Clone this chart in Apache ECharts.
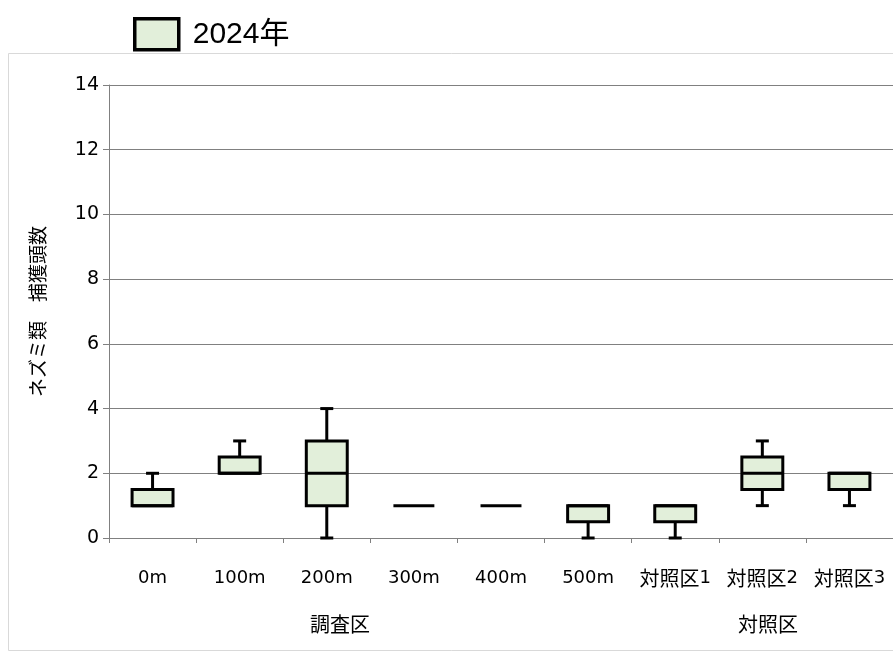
<!DOCTYPE html>
<html><head><meta charset="utf-8">
<script src="https://cdn.jsdelivr.net/npm/echarts@6/dist/echarts.min.js"></script>
<style>html,body{margin:0;padding:0;background:#fff}#c{width:893px;height:654px}</style>
</head><body><div id="c"></div>
<script>
const categories = ['0m','100m','200m','300m','400m','500m','対照区1','対照区2','対照区3'];
const minVals    = [1, 2, 0, 1, 1, 0,   0,   1,   1];
const q1Vals     = [1, 2, 1, 1, 1, 0.5, 0.5, 1.5, 1.5];
const medianVals = [1, 2, 2, 1, 1, 1,   1,   2,   2];
const q3Vals     = [1.5, 2.5, 3, 1, 1, 1, 1, 2.5, 2];
const maxVals    = [2, 3, 4, 1, 1, 1, 1, 3, 2];
const groupLabels = ['調査区', '対照区'];
const seriesName = '2024年';
const yTicks = {min: 0, max: 14, interval: 2};

const data = categories.map((c, i) => [i, minVals[i], q1Vals[i], medianVals[i], q3Vals[i], maxVals[i]]);
const FONT = 'DejaVu Sans, Verdana, Noto Sans CJK JP, sans-serif';
const CJK = 'Noto Sans CJK JP, sans-serif';

function fmtCat(v) {
  const m = v.match(/^([^\x00-\x7f]+)(.*)$/);
  if (m) return '{c|' + m[1] + '}{d|' + m[2] + '}';
  return '{d|' + v + '}';
}

const chart = echarts.init(document.getElementById('c'), null, {renderer: 'canvas'});
chart.setOption({
  animation: false,
  backgroundColor: '#fff',
  grid: {left: 109, right: -2, top: 85, bottom: 116, containLabel: false},
  xAxis: {
    type: 'category', data: categories,
    axisLine: {lineStyle: {color: '#808080', width: 1}},
    axisTick: {show: true, interval: 0, length: 5, lineStyle: {color: '#808080'}},
    axisLabel: {color: '#000', margin: 28, interval: 0, hideOverlap: false, formatter: fmtCat,
      rich: {
        c: {fontSize: 20, fontFamily: CJK, color: '#000', lineHeight: 24},
        d: {fontSize: 18, fontFamily: FONT, color: '#000', lineHeight: 24}
      }},
    splitLine: {show: false}
  },
  yAxis: {
    type: 'value', min: yTicks.min, max: yTicks.max, interval: yTicks.interval,
    name: 'ネズミ類　捕獲頭数', nameLocation: 'middle', nameGap: 62, nameRotate: 90,
    nameTextStyle: {color: '#000', fontSize: 19, fontFamily: CJK},
    axisLine: {show: true, lineStyle: {color: '#808080', width: 1}},
    axisTick: {show: true, length: 6, lineStyle: {color: '#808080'}},
    axisLabel: {color: '#000', fontSize: 19, fontFamily: FONT, margin: 10},
    splitLine: {show: true, lineStyle: {color: '#808080', width: 1}}
  },
  graphic: [
    {type: 'rect', shape: {x: 8.5, y: 53.5, width: 900, height: 597}, style: {fill: 'none', stroke: '#d9d9d9', lineWidth: 1}, silent: true, z: -1},
    {type: 'text', left: 310, top: 614, style: {text: groupLabels[0], fontSize: 20, fontFamily: CJK, fill: '#000'}},
    {type: 'text', left: 738, top: 614, style: {text: groupLabels[1], fontSize: 20, fontFamily: CJK, fill: '#000'}}
  ],
  legend: {
    show: true, left: 128, top: 12, itemWidth: 44, itemHeight: 31, itemGap: 10,
    textStyle: {fontSize: 30, fontFamily: 'Liberation Sans, Arial, Noto Sans CJK JP, sans-serif', color: '#000', padding: [0, 0, 0, 9]},
    data: [{name: seriesName, icon: 'rect', itemStyle: {color: '#E2EFDA', borderColor: '#000', borderWidth: 3.5}}]
  },
  series: [{
    type: 'custom', name: seriesName,
    itemStyle: {color: '#E2EFDA', borderColor: '#000'},
    renderItem: function (params, api) {
      const i = api.value(0);
      const w = api.size([1, 0])[0] * 0.47;
      const cap = 13;
      const x = api.coord([i, 0])[0];
      const pMin = api.coord([i, api.value(1)])[1];
      const pQ1 = api.coord([i, api.value(2)])[1];
      const pMed = api.coord([i, api.value(3)])[1];
      const pQ3 = api.coord([i, api.value(4)])[1];
      const pMax = api.coord([i, api.value(5)])[1];
      const ls = {stroke: '#000', lineWidth: 3};
      const ch = [];
      if (pMax < pQ3) {
        ch.push({type: 'line', shape: {x1: x, y1: pMax, x2: x, y2: pQ3}, style: ls});
        ch.push({type: 'line', shape: {x1: x - cap / 2, y1: pMax, x2: x + cap / 2, y2: pMax}, style: ls});
      }
      if (pMin > pQ1) {
        ch.push({type: 'line', shape: {x1: x, y1: pQ1, x2: x, y2: pMin}, style: ls});
        ch.push({type: 'line', shape: {x1: x - cap / 2, y1: pMin, x2: x + cap / 2, y2: pMin}, style: ls});
      }
      if (pQ1 > pQ3) {
        ch.push({type: 'rect', shape: {x: x - w / 2, y: pQ3, width: w, height: pQ1 - pQ3},
          style: {fill: '#E2EFDA', stroke: '#000', lineWidth: 3}});
      }
      ch.push({type: 'line', shape: {x1: x - w / 2, y1: pMed, x2: x + w / 2, y2: pMed}, style: ls});
      return {type: 'group', children: ch};
    },
    encode: {x: 0, y: [1, 2, 3, 4, 5]},
    data: data
  }]
});
</script></body></html>
